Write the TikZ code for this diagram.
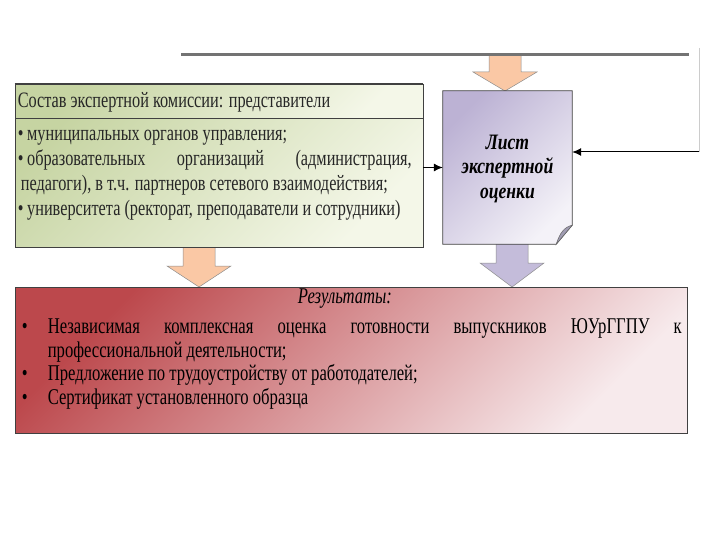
\documentclass[tikz,border=0pt]{standalone}
\usepackage{fontspec}
\setmainfont[FakeStretch=0.74]{Liberation Serif}
\newfontfamily\sheetfont[FakeStretch=0.8]{Liberation Serif}
\usepackage{tikz}
\usetikzlibrary{arrows.meta,positioning,calc}
\definecolor{grdark}{RGB}{198,212,162}
\definecolor{grlight}{RGB}{244,247,232}
\definecolor{lavdark}{RGB}{188,178,212}
\definecolor{lavlight}{RGB}{244,242,248}
\definecolor{rddark}{RGB}{188,72,76}
\definecolor{rdlight}{RGB}{247,234,236}
\definecolor{peach}{RGB}{250,200,165}
\definecolor{lavarrow}{RGB}{196,188,218}
\definecolor{foldc}{RGB}{160,156,178}
\tikzset{
  panel/.style={draw=black!75, line width=0.8pt, inner sep=0pt, top color=grdark, bottom color=grlight, shading angle=45},
  txt/.style={font=\fontsize{22}{25}\selectfont, inner sep=0pt, align=justify},
  blk/.style={draw=black!45, line width=0.5pt},
  link/.style={-{Latex[length=9pt,width=8pt]}, line width=1pt}
}
% block arrow: centre x, top, neck, tip, fill
\newcommand{\blkarrow}[5]{%
  \draw[blk, fill=#5] (#1-16,#2) -- (#1+16,#2) -- (#1+16,#3) -- (#1+32,#3) -- (#1,#4)
    -- (#1-32,#3) -- (#1-16,#3) -- cycle;}
\newcommand{\itm}[2]{\par\hangindent=#1\hangafter=1\noindent\makebox[#1][l]{\textbullet}#2}
\newcommand{\gitm}[1]{\par\hangindent=3pt\hangafter=1\noindent\textbullet\,#1}

\begin{document}
\begin{tikzpicture}[x=1pt, y=-1pt]
\useasboundingbox (0,0) rectangle (720,540);

% block arrows
\blkarrow{505}{55}{72}{91}{peach}
\blkarrow{199}{246}{266}{287}{peach}
\blkarrow{512}{243}{263}{287}{lavarrow}

% commission
\node[panel, minimum width=408pt, minimum height=163pt] (comm) at (219,165.5) {};
\node[panel, anchor=north west, minimum width=408pt, minimum height=34pt] (commhead) at (comm.north west) {};
\draw[black!75, line width=2pt] (comm.north west) -- (comm.north east);
\node[txt, anchor=west, text=black!85] (headtxt) at ([xshift=3pt,yshift=-1.5pt]commhead.west) {Состав экспертной комиссии: представители};
\node[txt, anchor=north west, text width=394pt, text=black!85] (members) at ([xshift=3pt,yshift=3pt]commhead.south west)
  {\gitm{муниципальных органов управления;}
   \gitm{образовательных организаций (администрация, педагоги), в т.ч. партнеров сетевого взаимодействия;}
   \gitm{университета (ректорат, преподаватели и сотрудники)}};

% expert sheet
\node[minimum width=129pt, minimum height=153pt, inner sep=0pt] (sheet) at (507.5,167.5) {};
\shade[draw=black!75, line width=0.8pt, top color=lavdark, bottom color=lavlight, shading angle=45]
  (sheet.north west) -- (sheet.north east) -- ($(sheet.south east)+(0,-19)$)
  -- ($(sheet.south east)+(-16,0)$) -- (sheet.south west) -- cycle;
\draw[black!60, fill=foldc, line width=0.5pt] ($(sheet.south east)+(0,-19)$)
  .. controls ($(sheet.south east)+(-8,-17)$) and ($(sheet.south east)+(-12,-12)$) .. ($(sheet.south east)+(-16,0)$) -- cycle;
\node[font=\sheetfont\fontsize{22}{24.5}\selectfont\bfseries\itshape, align=center, inner sep=0pt] (sheettxt) at ([yshift=-1pt]sheet.center)
  {Лист\\экспертной\\оценки};

% results
\node[draw=black!75, line width=0.8pt, top color=rddark, bottom color=rdlight, shading angle=45,
  minimum width=672pt, minimum height=146pt, inner sep=0pt] (res) at (351,360) {};
\node[txt, font=\fontsize{22.5}{24}\selectfont\itshape] (restitle) at ([xshift=-6pt,yshift=-12pt]res.north) {Результаты:};
\node[txt, font=\fontsize{22.5}{23.7}\selectfont, anchor=north west, text width=660pt] (reslist) at ([xshift=7pt,yshift=-23pt]res.north west)
  {\itm{26pt}{Независимая комплексная оценка готовности выпускников ЮУрГГПУ к\linebreak профессиональной деятельности;}
   \itm{26pt}{Предложение по трудоустройству от работодателей;}
   \itm{26pt}{Сертификат установленного образца}};

% connectors
\coordinate (topl) at (181,55);
\coordinate (topr) at (689,55);
\draw[black!55, line width=3pt] (topl) -- (topr);
\coordinate (fbtop) at (699,48);
\coordinate (fbturn) at (699,152);
\draw[black!20, line width=0.8pt] (fbtop) -- (fbturn);
\draw[link] (fbturn) -- (fbturn -| sheet.east);
\draw[link] (sheet.west -| comm.east) -- (sheet.west);
\end{tikzpicture}
\end{document}
